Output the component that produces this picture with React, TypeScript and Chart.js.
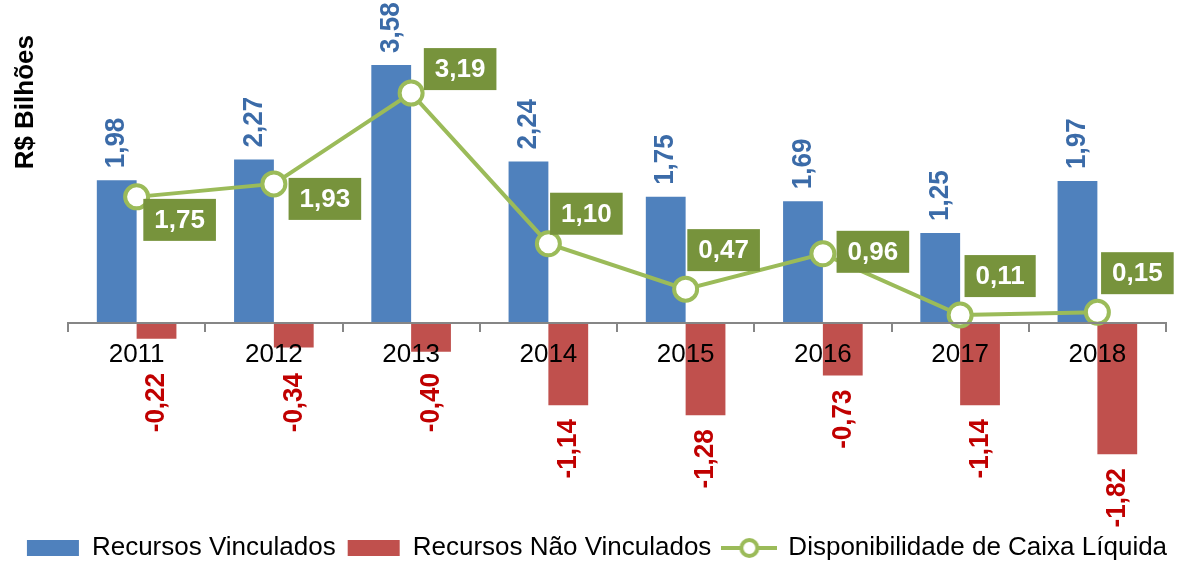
import React, { useEffect, useRef } from "react";
import { Chart, registerables } from "chart.js";

Chart.register(...registerables);

const years = ["2011", "2012", "2013", "2014", "2015", "2016", "2017", "2018"];
const recursosVinculados = [1.98, 2.27, 3.58, 2.24, 1.75, 1.69, 1.25, 1.97];
const recursosNaoVinculados = [-0.22, -0.34, -0.4, -1.14, -1.28, -0.73, -1.14, -1.82];
const disponibilidadeCaixa = [1.75, 1.93, 3.19, 1.1, 0.47, 0.96, 0.11, 0.15];

// label placement (pixel offsets of the green value boxes from their points)
const lineLabelOffsets: [number, number][] = [
  [43, 23], [51, 15], [49, -24], [38, -30], [38, -39], [50, -2], [40, -39], [40, -39],
];

const FONT = "'Liberation Sans', Arial, sans-serif";
const BLUE = "#4F81BD";
const RED = "#C0504D";
const GREEN = "#9BBB59";

const fmt = (v: number) => v.toFixed(2).replace(".", ",");

function makeLineLegendIcon() {
  const c = document.createElement("canvas");
  c.width = 56;
  c.height = 28;
  const ctx = c.getContext("2d")!;
  ctx.strokeStyle = GREEN;
  ctx.lineWidth = 4;
  ctx.beginPath();
  ctx.moveTo(0, 14);
  ctx.lineTo(56, 14);
  ctx.stroke();
  ctx.beginPath();
  ctx.arc(28, 14, 8, 0, Math.PI * 2);
  ctx.fillStyle = "#fff";
  ctx.fill();
  ctx.stroke();
  return c;
}

const labelsPlugin = {
  id: "valueLabels",
  afterDatasetsDraw(chart: any) {
    const ctx = chart.ctx;
    const yScale = chart.scales.y;
    const zeroY = yScale.getPixelForValue(0);
    const m0 = chart.getDatasetMeta(0);
    const m1 = chart.getDatasetMeta(1);
    ctx.save();
    ctx.font = `bold 26px ${FONT}`;
    for (let i = 0; i < years.length; i++) {
      const b = m0.data[i];
      ctx.save();
      ctx.translate(b.x, b.y - 12);
      ctx.rotate(-Math.PI / 2);
      ctx.scale(1, 1.08);
      ctx.textAlign = "left";
      ctx.textBaseline = "middle";
      ctx.fillStyle = "#3B6BA8";
      ctx.fillText(fmt(recursosVinculados[i]), 0, 0);
      ctx.restore();

      const r = m1.data[i];
      const top = Math.max(r.y + 14, zeroY + 50);
      ctx.save();
      ctx.translate(r.x, top);
      ctx.rotate(-Math.PI / 2);
      ctx.scale(1, 1.08);
      ctx.textAlign = "right";
      ctx.textBaseline = "middle";
      ctx.fillStyle = "#C00000";
      ctx.fillText(fmt(recursosNaoVinculados[i]), 0, 0);
      ctx.restore();
    }
    ctx.restore();
  },
  afterDraw(chart: any) {
    const ctx = chart.ctx;
    const m2 = chart.getDatasetMeta(2);
    ctx.save();
    ctx.font = `bold 26px ${FONT}`;
    for (let i = 0; i < years.length; i++) {
      const p = m2.data[i];
      const cx = p.x + lineLabelOffsets[i][0];
      const cy = p.y + lineLabelOffsets[i][1];
      const txt = fmt(disponibilidadeCaixa[i]);
      const w = ctx.measureText(txt).width + 22;
      const h = 42;
      ctx.fillStyle = "#77933C";
      ctx.fillRect(cx - w / 2, cy - h / 2, w, h);
      ctx.fillStyle = "#fff";
      ctx.textAlign = "center";
      ctx.textBaseline = "middle";
      ctx.fillText(txt, cx, cy + 1);
    }
    ctx.fillStyle = "#000";
    ctx.translate(26, 35);
    ctx.rotate(-Math.PI / 2);
    ctx.textAlign = "right";
    ctx.textBaseline = "middle";
    ctx.fillText("R$ Bilhões", 0, 0);
    ctx.restore();
  },
};

export default function App() {
  const ref = useRef<HTMLCanvasElement>(null);
  useEffect(() => {
    document.body.style.margin = "0";
    const icon = makeLineLegendIcon();
    const chart = new Chart(ref.current!, {
      type: "bar",
      data: {
        labels: years,
        datasets: [
          {
            label: "Recursos Vinculados",
            data: recursosVinculados,
            backgroundColor: BLUE,
            categoryPercentage: 0.58,
            barPercentage: 1,
            order: 1,
          },
          {
            label: "Recursos Não Vinculados",
            data: recursosNaoVinculados,
            backgroundColor: RED,
            categoryPercentage: 0.58,
            barPercentage: 1,
            order: 1,
          },
          {
            type: "line",
            label: "Disponibilidade de Caixa Líquida",
            data: disponibilidadeCaixa,
            borderColor: GREEN,
            borderWidth: 4,
            pointRadius: 11.5,
            pointBackgroundColor: "#fff",
            pointBorderColor: GREEN,
            pointBorderWidth: 4,
            tension: 0,
            order: -1,
          } as any,
        ],
      },
      options: {
        animation: false,
        responsive: false,
        devicePixelRatio: 1,
        layout: { padding: { left: 0, right: 0, top: 35, bottom: -9 } },
        scales: {
          x: {
            position: { y: 0 } as any,
            offset: true,
            grid: {
              display: true,
              drawOnChartArea: false,
              drawTicks: true,
              tickLength: 8,
              color: "#868686",
              lineWidth: 2,
              offset: true,
              z: 1,
            },
            border: { display: true, color: "#868686", width: 2, z: 1 },
            ticks: { color: "#000", font: { size: 26, family: FONT }, padding: 8, z: 1 },
          },
          y: {
            display: true,
            position: "left",
            min: -2.775,
            max: 3.996,
            grid: { display: false },
            border: { display: false },
            ticks: { display: false },
            afterFit: (s: any) => { s.width = 68; },
          },
          yR: {
            type: "linear",
            display: true,
            position: "right",
            grid: { display: false },
            border: { display: false },
            ticks: { display: false },
            afterFit: (s: any) => { s.width = 28; },
          },
        },
        plugins: {
          tooltip: { enabled: false },
          legend: {
            position: "bottom",
            labels: {
              usePointStyle: true,
              pointStyleWidth: 52,
              boxHeight: 16,
              padding: 12,
              color: "#000",
              font: { size: 26, family: FONT },
              generateLabels: () => [
                { text: "Recursos Vinculados", fillStyle: BLUE, strokeStyle: BLUE, lineWidth: 0, pointStyle: "rect", hidden: false, datasetIndex: 0, fontColor: "#000" },
                { text: "Recursos Não Vinculados", fillStyle: RED, strokeStyle: RED, lineWidth: 0, pointStyle: "rect", hidden: false, datasetIndex: 1, fontColor: "#000" },
                { text: "Disponibilidade de Caixa Líquida", fillStyle: "#fff", strokeStyle: GREEN, lineWidth: 0, pointStyle: icon, hidden: false, datasetIndex: 2, fontColor: "#000" },
              ] as any,
            },
          },
        },
      },
      plugins: [labelsPlugin],
    });
    return () => chart.destroy();
  }, []);
  return (
    <div style={{ width: 1194, height: 562 }}>
      <canvas ref={ref} width={1194} height={562} />
    </div>
  );
}
